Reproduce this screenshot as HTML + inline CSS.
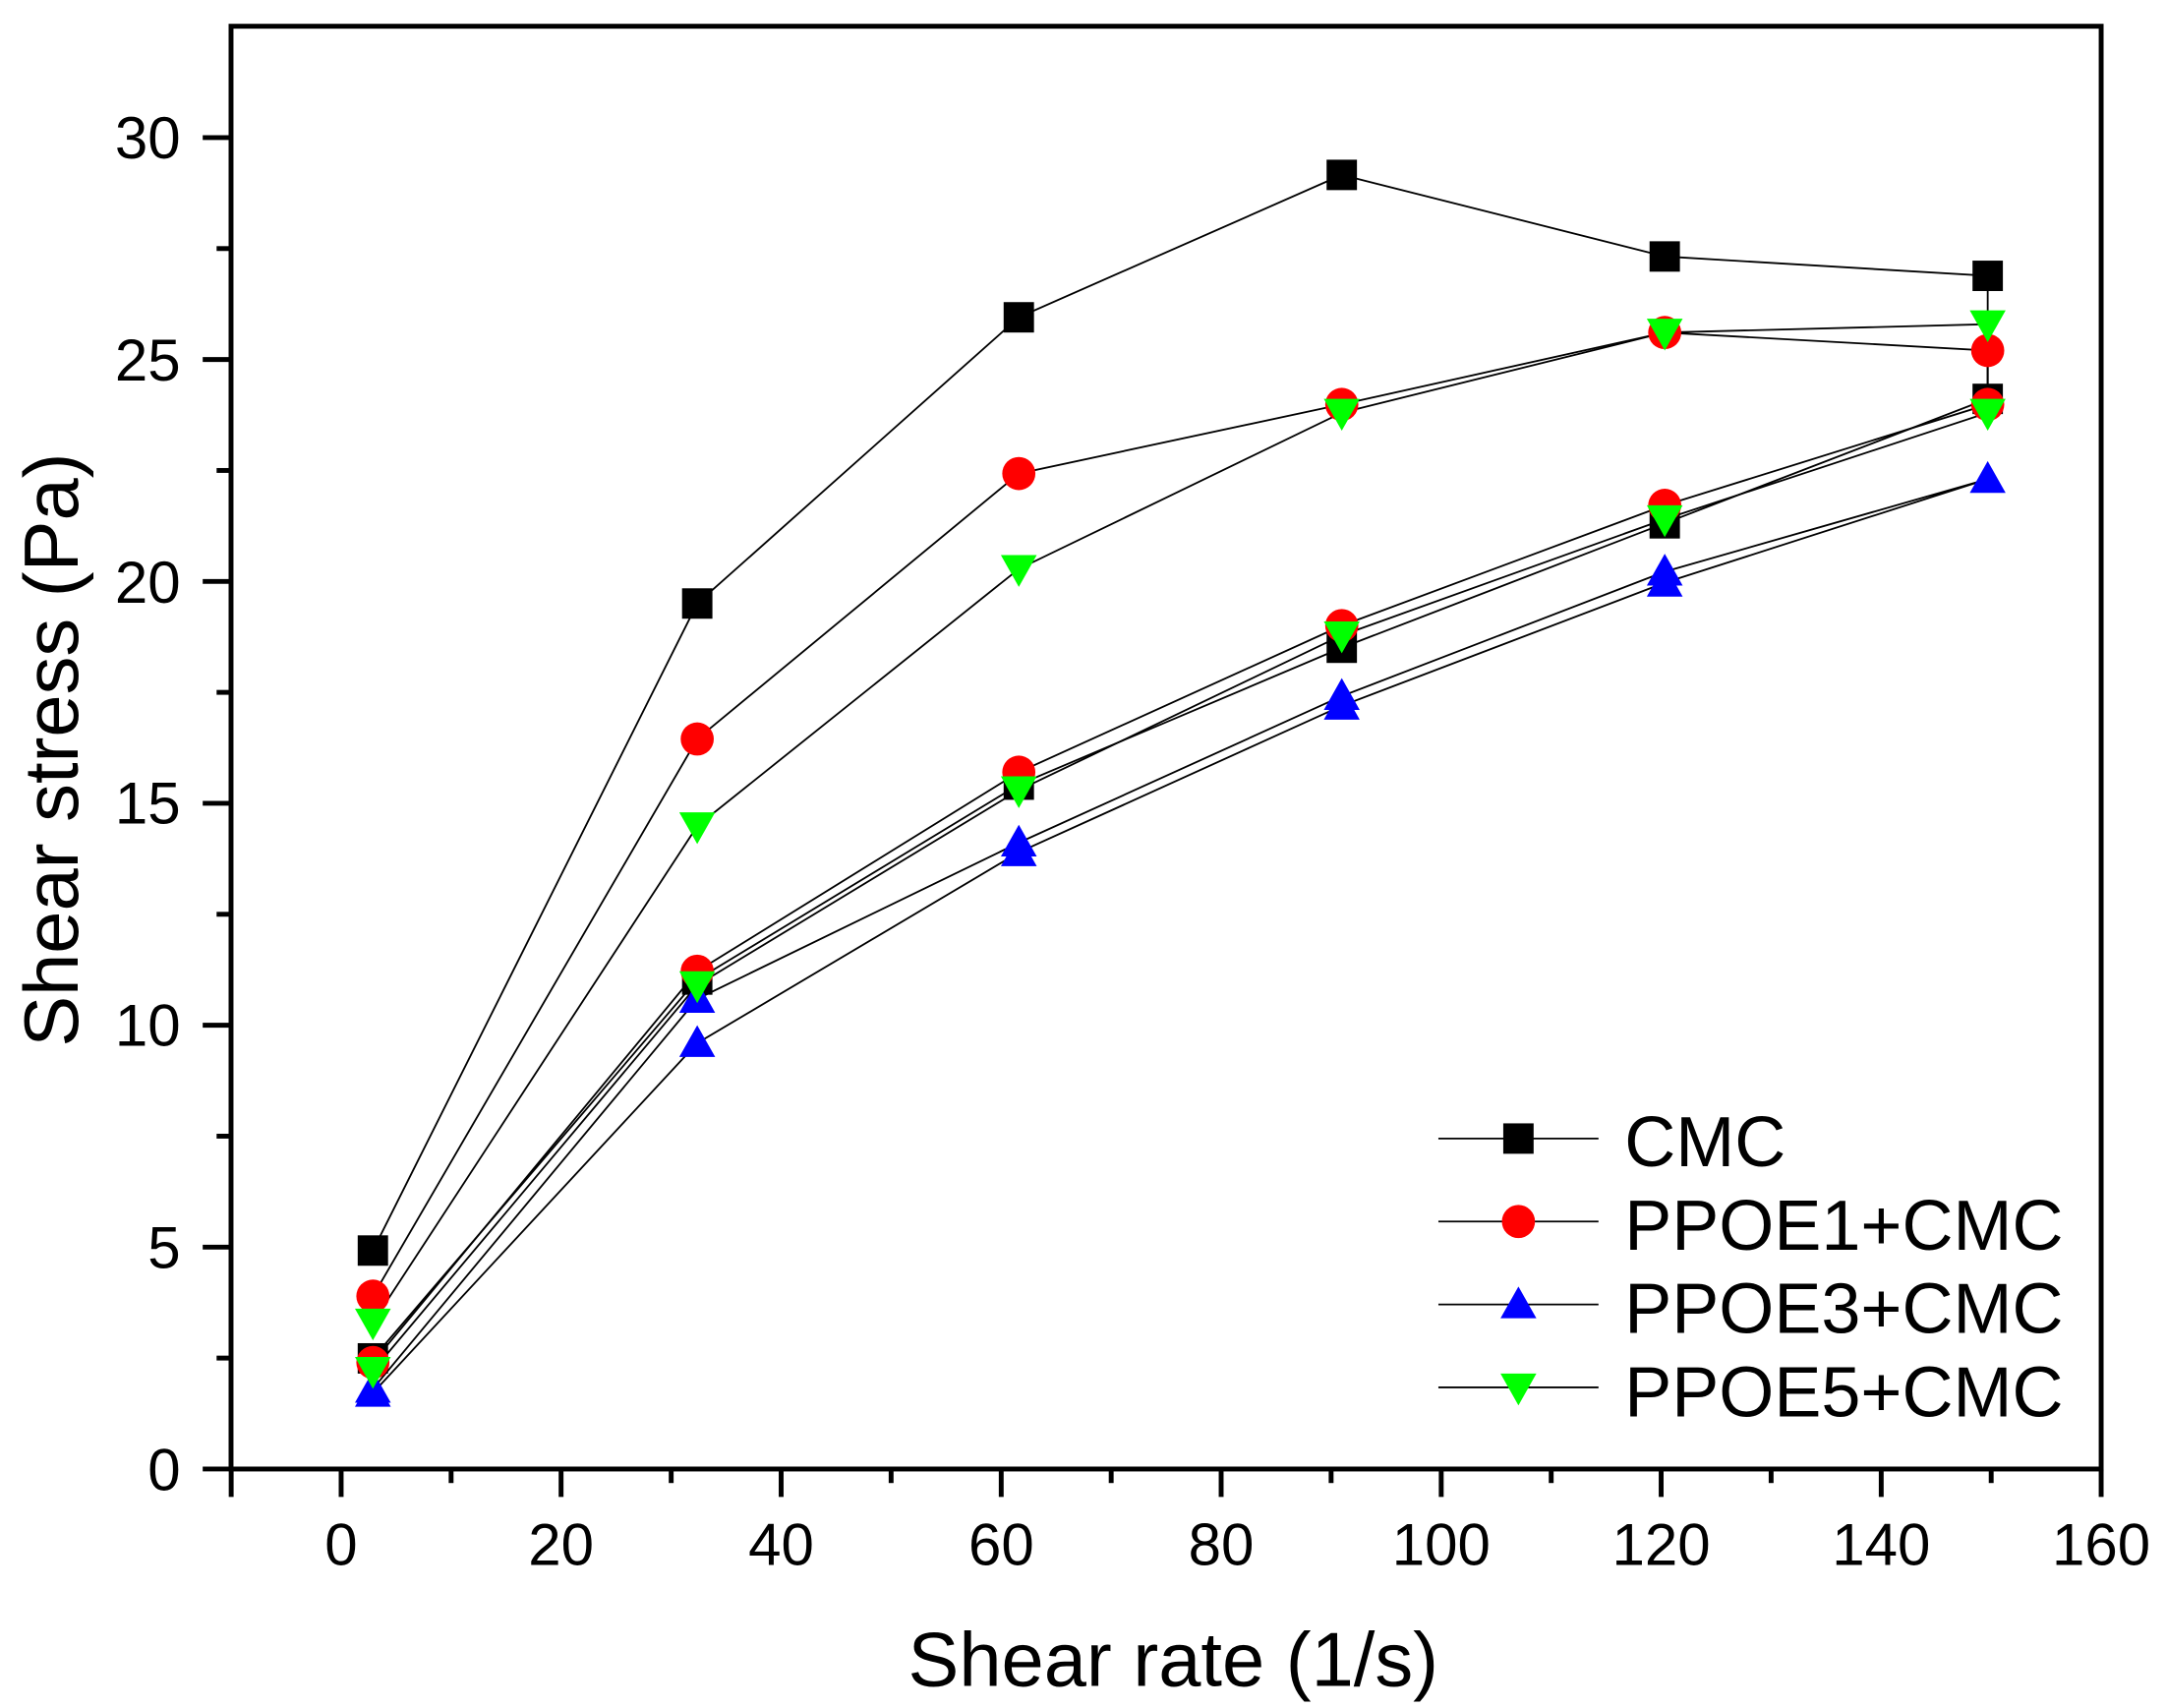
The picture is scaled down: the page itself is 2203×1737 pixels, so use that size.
<!DOCTYPE html>
<html><head><meta charset="utf-8"><style>html,body{margin:0;padding:0;background:#fff}svg{display:block}</style></head><body>
<svg width="2203" height="1737" viewBox="0 0 1560 1230" preserveAspectRatio="none" xmlns="http://www.w3.org/2000/svg" font-family="Liberation Sans, Arial, sans-serif">
<rect width="1560" height="1230" fill="#fff"/>
<defs>
<rect id="sq" x="-11" y="-11" width="22" height="22" fill="#000"/>
<circle id="ci" r="12" fill="#f00"/>
<polygon id="up" points="0,-13 13,10 -13,10" fill="#00f"/>
<polygon id="dn" points="0,13 13,-10 -13,-10" fill="#0f0"/>
</defs>
<g transform="matrix(0.99404,0,0,0.99564,0.17,0.51)">
<g fill="none" stroke="#000" stroke-width="1.3">
<polyline points="270,904 505,436 738,229 972,126 1206,185 1440,199 1440,288 1206,378 972,468 738,567 505,708 270,982"/>
<polyline points="270,937 505,534 738,342 972,292 1206,240 1440,253 1440,292 1206,365 972,452 738,558 505,702 270,985"/>
<polyline points="270,1004 505,722 738,609 972,503 1206,413 1440,346 1440,346 1206,421 972,510 738,616 505,754 270,1007"/>
<polyline points="270,956 505,597 738,411 972,298 1206,240 1440,234 1440,298 1206,375 972,459 738,571 505,712 270,991"/>
<line x1="1042" y1="823" x2="1158" y2="823"/><line x1="1042" y1="883" x2="1158" y2="883"/><line x1="1042" y1="943" x2="1158" y2="943"/><line x1="1042" y1="1003" x2="1158" y2="1003"/>
</g>
<use href="#sq" x="270" y="904"/><use href="#sq" x="505" y="436"/><use href="#sq" x="738" y="229"/><use href="#sq" x="972" y="126"/><use href="#sq" x="1206" y="185"/><use href="#sq" x="1440" y="199"/><use href="#sq" x="1440" y="288"/><use href="#sq" x="1206" y="378"/><use href="#sq" x="972" y="468"/><use href="#sq" x="738" y="567"/><use href="#sq" x="505" y="708"/><use href="#sq" x="270" y="982"/>
<use href="#ci" x="270" y="937"/><use href="#ci" x="505" y="534"/><use href="#ci" x="738" y="342"/><use href="#ci" x="972" y="292"/><use href="#ci" x="1206" y="240"/><use href="#ci" x="1440" y="253"/><use href="#ci" x="1440" y="292"/><use href="#ci" x="1206" y="365"/><use href="#ci" x="972" y="452"/><use href="#ci" x="738" y="558"/><use href="#ci" x="505" y="702"/><use href="#ci" x="270" y="985"/>
<use href="#up" x="270" y="1004"/><use href="#up" x="505" y="722"/><use href="#up" x="738" y="609"/><use href="#up" x="972" y="503"/><use href="#up" x="1206" y="413"/><use href="#up" x="1440" y="346"/><use href="#up" x="1206" y="421"/><use href="#up" x="972" y="510"/><use href="#up" x="738" y="616"/><use href="#up" x="505" y="754"/><use href="#up" x="270" y="1007"/>
<use href="#dn" x="270" y="956"/><use href="#dn" x="505" y="597"/><use href="#dn" x="738" y="411"/><use href="#dn" x="972" y="298"/><use href="#dn" x="1206" y="240"/><use href="#dn" x="1440" y="234"/><use href="#dn" x="1440" y="298"/><use href="#dn" x="1206" y="375"/><use href="#dn" x="972" y="459"/><use href="#dn" x="738" y="571"/><use href="#dn" x="505" y="712"/><use href="#dn" x="270" y="991"/>
<use href="#sq" x="1100" y="823"/><use href="#ci" x="1100" y="883"/><use href="#up" x="1100" y="943"/><use href="#dn" x="1100" y="1003"/>
</g>
<rect x="166.4" y="18.9" width="1346.9" height="1039" fill="none" stroke="#000" stroke-width="3.5"/>
<g stroke="#000" stroke-width="3.5">
<line x1="166.5" y1="1058" x2="166.5" y2="1078"/><line x1="245.7" y1="1058" x2="245.7" y2="1078"/><line x1="324.9" y1="1058" x2="324.9" y2="1068"/><line x1="404.1" y1="1058" x2="404.1" y2="1078"/><line x1="483.4" y1="1058" x2="483.4" y2="1068"/><line x1="562.6" y1="1058" x2="562.6" y2="1078"/><line x1="641.8" y1="1058" x2="641.8" y2="1068"/><line x1="721.1" y1="1058" x2="721.1" y2="1078"/><line x1="800.3" y1="1058" x2="800.3" y2="1068"/><line x1="879.5" y1="1058" x2="879.5" y2="1078"/><line x1="958.7" y1="1058" x2="958.7" y2="1068"/><line x1="1038" y1="1058" x2="1038" y2="1078"/><line x1="1117.2" y1="1058" x2="1117.2" y2="1068"/><line x1="1196.4" y1="1058" x2="1196.4" y2="1078"/><line x1="1275.6" y1="1058" x2="1275.6" y2="1068"/><line x1="1354.9" y1="1058" x2="1354.9" y2="1078"/><line x1="1434.1" y1="1058" x2="1434.1" y2="1068"/><line x1="1513.3" y1="1058" x2="1513.3" y2="1078"/>
<line x1="146" y1="1057.9" x2="166" y2="1057.9"/><line x1="156" y1="978" x2="166" y2="978"/><line x1="146" y1="898.1" x2="166" y2="898.1"/><line x1="156" y1="818.2" x2="166" y2="818.2"/><line x1="146" y1="738.3" x2="166" y2="738.3"/><line x1="156" y1="658.4" x2="166" y2="658.4"/><line x1="146" y1="578.5" x2="166" y2="578.5"/><line x1="156" y1="498.6" x2="166" y2="498.6"/><line x1="146" y1="418.7" x2="166" y2="418.7"/><line x1="156" y1="338.8" x2="166" y2="338.8"/><line x1="146" y1="258.9" x2="166" y2="258.9"/><line x1="156" y1="179" x2="166" y2="179"/><line x1="146" y1="99.1" x2="166" y2="99.1"/>
</g>
<g font-size="42.5" text-anchor="middle">
<text x="245.7" y="1127">0</text><text x="404.1" y="1127">20</text><text x="562.6" y="1127">40</text><text x="721.1" y="1127">60</text><text x="879.5" y="1127">80</text><text x="1038" y="1127">100</text><text x="1196.4" y="1127">120</text><text x="1354.9" y="1127">140</text><text x="1513.3" y="1127">160</text>
</g>
<g font-size="42.5" text-anchor="end">
<text x="130" y="1073">0</text><text x="130" y="913">5</text><text x="130" y="753">10</text><text x="130" y="593">15</text><text x="130" y="434">20</text><text x="130" y="274">25</text><text x="130" y="114">30</text>
</g>
<text x="845" y="1214" font-size="55" text-anchor="middle">Shear rate (1/s)</text>
<text transform="translate(56,540) rotate(-90)" font-size="55" text-anchor="middle">Shear stress (Pa)</text>
<g font-size="51">
<text x="1170" y="840">CMC</text><text x="1170" y="900">PPOE1+CMC</text><text x="1170" y="960">PPOE3+CMC</text><text x="1170" y="1020">PPOE5+CMC</text>
</g>
</svg>
</body></html>
